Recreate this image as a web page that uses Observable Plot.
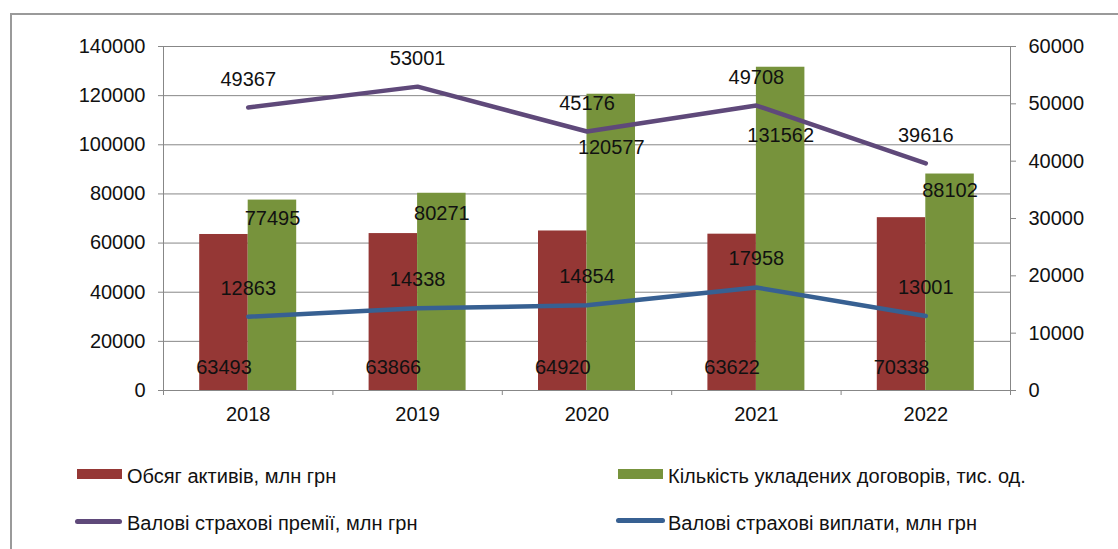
<!DOCTYPE html>
<html>
<head>
<meta charset="utf-8">
<script src="https://cdn.jsdelivr.net/npm/d3@7"></script>
<script src="https://cdn.jsdelivr.net/npm/@observablehq/plot@0.6"></script>
<style>
  html, body { margin: 0; padding: 0; background: #fff; }
  #wrap { position: relative; width: 1118px; height: 549px; overflow: hidden; font-family: "Liberation Sans", Arial, sans-serif; }
  #border { position: absolute; left: 10px; top: 13px; width: 1200px; height: 600px; border-left: 2px solid #9a9a9a; border-top: 2px solid #9a9a9a; }
  #chart { position: absolute; left: 0; top: 0; }
  .sw { position: absolute; }
  .lt { position: absolute; font-size: 20px; line-height: 20px; color: #111; white-space: pre; }
</style>
</head>
<body>
<div id="wrap">
  <div id="border"></div>
  <div id="chart"></div>
  <div id="legend"></div>
</div>
<script>
// ---- data ----
const years = ["2018", "2019", "2020", "2021", "2022"];
const assets = [63493, 63866, 64920, 63622, 70338];          // Обсяг активів, млн грн (left axis)
const contracts = [77495, 80271, 120577, 131562, 88102];     // Кількість укладених договорів, тис. од. (left axis)
const premiums = [49367, 53001, 45176, 49708, 39616];        // Валові страхові премії, млн грн (right axis)
const payouts = [12863, 14338, 14854, 17958, 13001];         // Валові страхові виплати, млн грн (right axis)
const leftTicks = [0, 20000, 40000, 60000, 80000, 100000, 120000, 140000];
const rightTicks = [0, 10000, 20000, 30000, 40000, 50000, 60000];
const seriesNames = [
  "Обсяг активів, млн грн",
  "Кількість укладених договорів, тис. од.",
  "Валові страхові премії, млн грн",
  "Валові страхові виплати, млн грн"
];

// ---- styling / layout ----
const colors = ["#953735", "#77933C", "#5F497A", "#376092"];
const gridColor = "#878787";
const W = 1118, H = 420, mL = 163, mR = 108, mT = 46, mB = 30;
const leftMax = 140000, rightMax = 60000;
const k = leftMax / rightMax;                       // right-axis -> left-axis units
const pxPerCat = (W - mL - mR) / years.length;
const bw = 48.5 / pxPerCat;                         // bar width in category units
const xMin = -0.5, xMax = years.length - 0.5;
const contractLabelDy = [25, 26, 59, 74, 23];       // manual label nudges as in the original

const rows = years.map((year, i) => ({
  i, year,
  assets: assets[i], contracts: contracts[i],
  prem: premiums[i], pay: payouts[i]
}));
const boundaries = years.map((_, i) => i - 0.5).concat([years.length - 0.5]);
const font = "'Liberation Sans', Arial, sans-serif";
const fs = 20;

const chart = Plot.plot({
  width: W, height: H,
  marginLeft: mL, marginRight: mR, marginTop: mT, marginBottom: mB,
  style: { fontFamily: font, fontSize: fs + "px", background: "transparent", overflow: "visible" },
  x: { type: "linear", domain: [xMin, xMax], axis: null },
  y: { type: "linear", domain: [0, leftMax], axis: null },
  marks: [
    // gridlines
    Plot.ruleY(leftTicks, { y: d => d, stroke: gridColor, strokeWidth: 1 }),
    // left ticks
    Plot.ruleY(leftTicks, { y: d => d, x1: xMin, x2: xMin, insetLeft: -5, stroke: gridColor }),
    // right ticks
    Plot.ruleY(rightTicks, { y: d => d * k, x1: xMax, x2: xMax, insetRight: -6, stroke: gridColor }),
    // bars
    Plot.rectY(rows, { x1: d => d.i - bw, x2: d => d.i, y1: 0, y2: "assets", fill: colors[0] }),
    Plot.rectY(rows, { x1: d => d.i, x2: d => d.i + bw, y1: 0, y2: "contracts", fill: colors[1] }),
    // axis lines
    Plot.ruleX([xMin, xMax], { x: d => d, stroke: gridColor }),
    Plot.ruleX(boundaries, { x: d => d, y1: 0, y2: 0, insetBottom: -5, stroke: gridColor }),
    // lines
    Plot.line(rows, { x: "i", y: d => d.prem * k, stroke: colors[2], strokeWidth: 4.5, strokeLinecap: "round", strokeLinejoin: "round" }),
    Plot.line(rows, { x: "i", y: d => d.pay * k, stroke: colors[3], strokeWidth: 4.5, strokeLinecap: "round", strokeLinejoin: "round" }),
    // data labels
    Plot.text(rows, { x: d => d.i - bw / 2, y: 0, text: d => String(d.assets), dy: -23, fontSize: fs, fill: "#111" }),
    Plot.text(rows, { x: d => d.i + bw / 2, y: "contracts", text: d => String(d.contracts), fontSize: fs, fill: "#111" }),
    Plot.text(rows, { x: "i", y: d => d.prem * k, text: d => String(d.prem), dy: -28, fontSize: fs, fill: "#111" }),
    Plot.text(rows, { x: "i", y: d => d.pay * k, text: d => String(d.pay), dy: -28.5, fontSize: fs, fill: "#111" }),
    // axis labels
    Plot.text(leftTicks, { x: xMin, y: d => d, text: d => String(d), textAnchor: "end", dx: -18, fontSize: fs, fill: "#111" }),
    Plot.text(rightTicks, { x: xMax, y: d => d * k, text: d => String(d), textAnchor: "start", dx: 18, fontSize: fs, fill: "#111" }),
    Plot.text(rows, { x: "i", y: 0, text: "year", dy: 24.5, fontSize: fs, fill: "#111" })
  ]
});
document.getElementById("chart").appendChild(chart);

// apply per-label nudges for contract labels (Plot's dy is a constant, so shift the rendered texts)
(function () {
  const texts = chart.querySelectorAll("g[aria-label='text']");
  const g = texts[1]; // second text group = contract labels
  if (g) {
    g.querySelectorAll("text").forEach((t, i) => {
      const cur = parseFloat(t.getAttribute("y"));
      t.setAttribute("y", cur + contractLabelDy[i]);
    });
  }
})();

// ---- legend ----
const legend = document.getElementById("legend");
const legendItems = [
  { kind: "box", color: colors[0], sx: 77, sy: 469, sw: 45, sh: 10, tx: 127, ty: 465.5, label: seriesNames[0] },
  { kind: "box", color: colors[1], sx: 618, sy: 469, sw: 45, sh: 10, tx: 668, ty: 465.5, label: seriesNames[1] },
  { kind: "line", color: colors[2], sx: 75, sy: 519, sw: 47, sh: 5, tx: 127, ty: 512.5, label: seriesNames[2] },
  { kind: "line", color: colors[3], sx: 616, sy: 518, sw: 49, sh: 5, tx: 668, ty: 512.5, label: seriesNames[3] }
];
legendItems.forEach(it => {
  const s = document.createElement("div");
  s.className = "sw";
  s.style.left = it.sx + "px"; s.style.top = it.sy + "px";
  s.style.width = it.sw + "px"; s.style.height = it.sh + "px";
  s.style.background = it.color;
  if (it.kind === "line") s.style.borderRadius = "3px";
  legend.appendChild(s);
  const t = document.createElement("div");
  t.className = "lt";
  t.style.left = it.tx + "px"; t.style.top = it.ty + "px";
  t.textContent = it.label;
  legend.appendChild(t);
});
</script>
</body>
</html>
